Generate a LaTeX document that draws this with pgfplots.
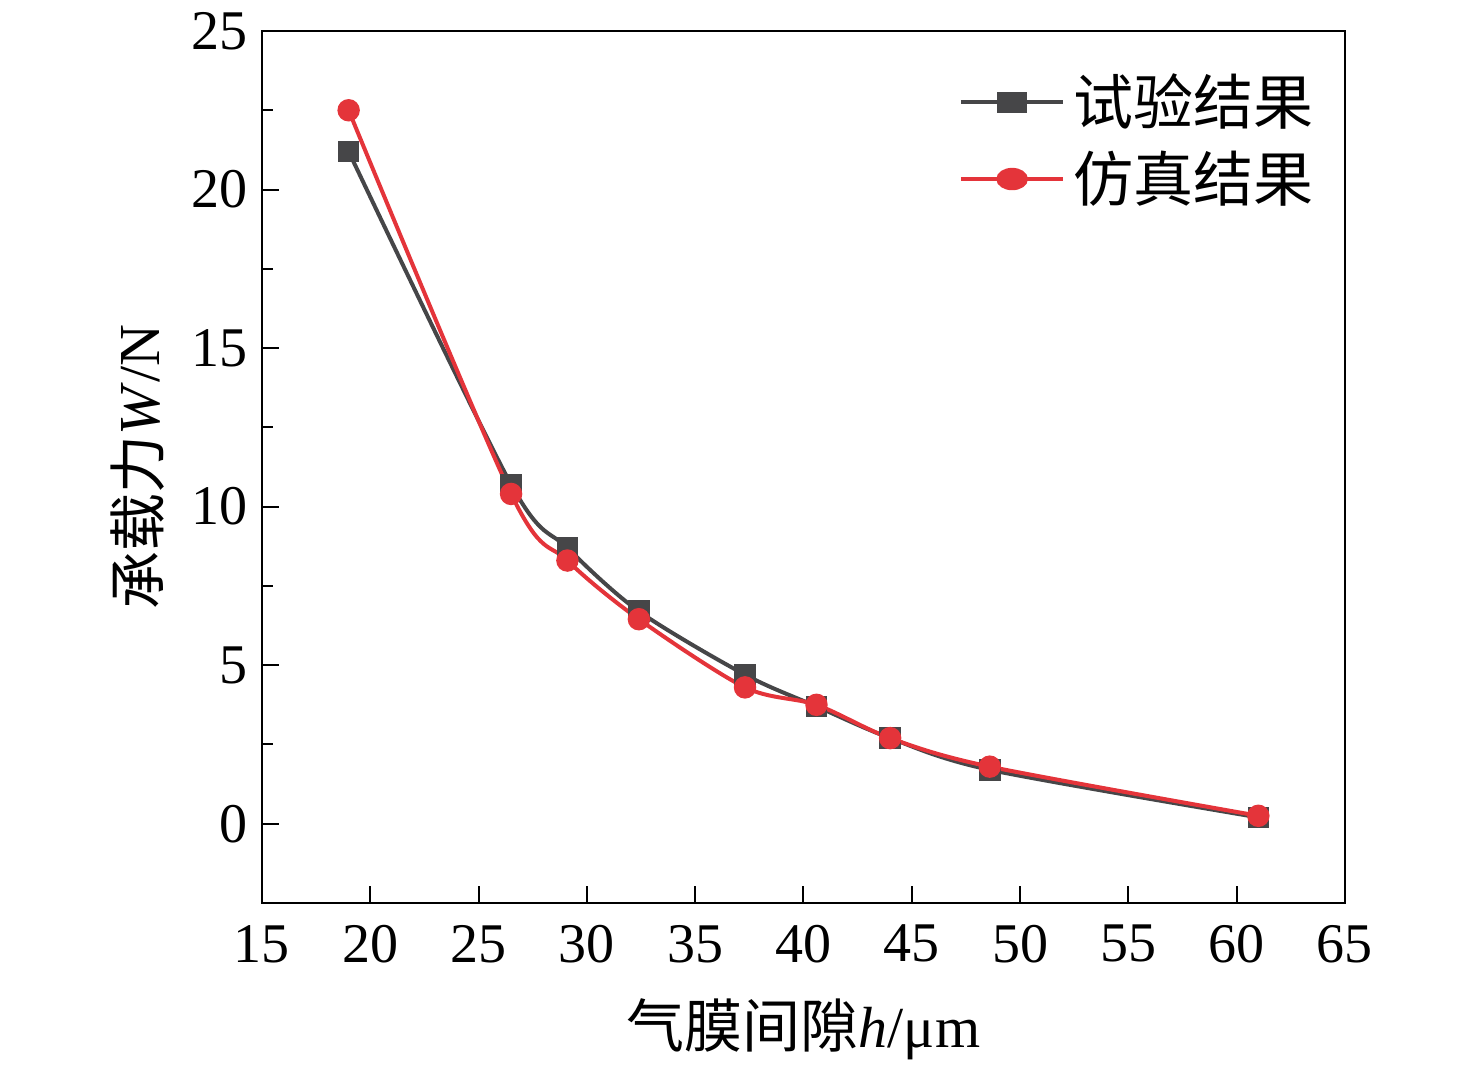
\documentclass[border=0pt]{standalone}
\usepackage{pgfplots}
\pgfplotsset{compat=1.18}
\usepackage{fontspec}
\setmainfont{Liberation Serif}
\newfontfamily\cjk{Noto Sans CJK SC}
\definecolor{dg}{RGB}{70,70,72}
\definecolor{rd}{RGB}{228,52,58}
\begin{document}
\begin{tikzpicture}
\path[use as bounding box] (-65.5pt,-42pt) rectangle (303.5pt,225.75pt);
\begin{axis}[at={(0,0)},anchor=south west,scale only axis,
width=270.75pt,height=218pt,
xmin=15,xmax=65,ymin=-2.5,ymax=25,
xtick={15,20,...,65},ytick={0,5,...,25},
minor y tick num=1,
tick align=inside,
xtick pos=bottom, ytick pos=left,
tick style={black,line width=0.5pt},
axis line style={line width=0.6pt},
ticklabel style={font=\fontsize{14}{14}\selectfont},
xticklabel style={yshift=-2pt},
/pgf/number format/assume math mode=true,
xlabel={{\cjk 气膜间隙}\textit{h}/μm},
ylabel={{\cjk 承载力}\textit{W}/N},
label style={font=\fontsize{14.5}{14.5}\selectfont},
xlabel style={yshift=-2pt},
legend style={draw=none,fill=none,at={(0.99,0.97)},anchor=north east,font=\cjk\fontsize{15}{17}\selectfont,row sep=1pt},
legend image post style={xscale=1.5},
legend cell align=left,
]
\addplot[dg,line width=1pt,smooth,tension=0.5,mark=square*,mark size=2.2pt] coordinates {
(19,21.2)(26.5,10.7)(29.1,8.7)(32.4,6.7)(37.3,4.7)(40.6,3.7)(44,2.7)(48.6,1.7)(61,0.2)};
\addlegendentry{试验结果}
\addplot[rd,line width=1pt,smooth,tension=0.5,mark=*,mark size=2.3pt] coordinates {
(19,22.5)(26.5,10.4)(29.1,8.3)(32.4,6.45)(37.3,4.3)(40.6,3.75)(44,2.7)(48.6,1.8)(61,0.25)};
\addlegendentry{仿真结果}
\end{axis}
\end{tikzpicture}
\end{document}
